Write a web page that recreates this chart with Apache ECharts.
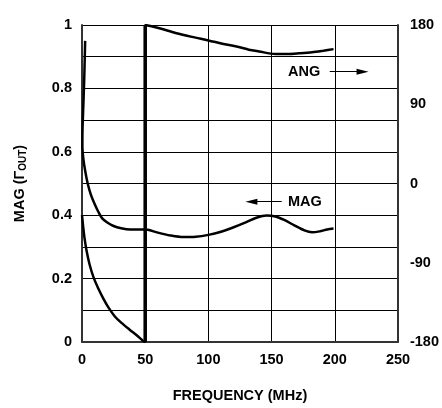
<!DOCTYPE html>
<html>
<head>
<meta charset="utf-8">
<script src="https://cdn.jsdelivr.net/npm/echarts@6/dist/echarts.min.js"></script>
<style>html,body{margin:0;padding:0;background:#fff;}#c{width:442px;height:408px;}</style>
</head>
<body>
<div id="c"></div>
<script>
// MAG (Γout) vs frequency (MHz)
var magFreq = [2.5, 2.2, 1.7, 1.0, 0.4, 0.3, 1.0, 2.5, 4.5, 7, 10, 13, 16, 20, 25, 31, 38, 48, 52, 60, 70, 80, 90, 100, 110, 120, 130, 138, 146, 153, 160, 168, 176, 182, 188, 194, 199];
var magValues = [0.95, 0.9, 0.82, 0.74, 0.67, 0.62, 0.58, 0.54, 0.5, 0.465, 0.435, 0.41, 0.39, 0.377, 0.366, 0.359, 0.355, 0.355, 0.354, 0.345, 0.336, 0.331, 0.332, 0.338, 0.348, 0.362, 0.378, 0.392, 0.399, 0.396, 0.385, 0.368, 0.352, 0.346, 0.349, 0.355, 0.358];
// Angle (degrees) vs frequency
var angFreq = [0, 1, 2, 3.7, 6, 9, 12.8, 17, 21, 26, 31, 37.7, 43, 48.5, 50, 50, 55, 62, 74, 87, 100, 112, 124, 132, 140, 153, 163, 172, 182, 191, 199];
var angValues = [-36, -50, -62, -77, -92, -106, -119, -131, -141, -151, -158, -166, -172, -179, -180, 180, 178.5, 176, 171, 166.5, 162.5, 158.5, 155, 152, 150, 147, 147, 147.8, 149, 150.8, 152.6];
var xTicks = [0, 50, 100, 150, 200, 250];
var magTicks = [0, 0.2, 0.4, 0.6, 0.8, 1];
var angTicks = [-180, -90, 0, 90, 180];

var F = 'Liberation Sans, Arial, Helvetica, sans-serif';
var FS = 14.5;
function zip(a, b) { return a.map(function (v, i) { return [v, b[i]]; }); }
// the phase wrap (two consecutive points at the same frequency), drawn heavier
var jump = [];
for (var i = 1; i < angFreq.length; i++) {
  if (angFreq[i] === angFreq[i - 1]) { jump = [[angFreq[i - 1], angValues[i - 1]], [angFreq[i], angValues[i]]]; }
}

var chart = echarts.init(document.getElementById('c'));
chart.setOption({
  animation: false,
  grid: { left: 82, right: 42, top: 25, bottom: 64 },
  xAxis: {
    type: 'value', min: xTicks[0], max: xTicks[xTicks.length - 1], interval: 50,
    name: 'FREQUENCY (MHz)', nameLocation: 'middle', nameGap: 46,
    nameTextStyle: { fontFamily: F, fontWeight: 'bold', fontSize: FS, color: '#000' },
    axisLine: { lineStyle: { color: '#333', width: 2 } },
    axisTick: { show: false },
    axisLabel: { fontFamily: F, fontWeight: 'bold', fontSize: FS, color: '#000', margin: 10 },
    splitLine: { show: true, lineStyle: { color: '#000', width: 1 } }
  },
  yAxis: [{
    type: 'value', min: 0, max: 1, interval: 0.1, position: 'left',
    name: '{a|MAG (Γ}{s|OUT}{a|)}', nameLocation: 'middle', nameGap: 54, nameRotate: 90,
    nameTextStyle: {
      rich: {
        a: { fontFamily: F, fontWeight: 'bold', fontSize: FS, color: '#000' },
        s: { fontFamily: F, fontWeight: 'bold', fontSize: 10, color: '#000', verticalAlign: 'bottom', padding: [7, 0, 0, 0] }
      }
    },
    axisLine: { show: true, lineStyle: { color: '#333', width: 2 } },
    axisTick: { show: false },
    axisLabel: {
      fontFamily: F, fontWeight: 'bold', fontSize: FS, color: '#000', margin: 10,
      formatter: function (v) {
        var k = Math.round(v * 10);
        if (k % 2 !== 0) return '';
        var t = magTicks.filter(function (m) { return Math.abs(m - v) < 1e-6; })[0];
        return t === 0 ? '0' : t === 1 ? '1' : t.toFixed(1);
      }
    },
    splitLine: { show: true, lineStyle: { color: '#000', width: 1 } }
  }, {
    type: 'value', min: angTicks[0], max: angTicks[angTicks.length - 1], interval: 90, position: 'right',
    axisLine: { show: true, lineStyle: { color: '#333', width: 2 } },
    axisTick: { show: false },
    axisLabel: { fontFamily: F, fontWeight: 'bold', fontSize: FS, color: '#000', margin: 12 },
    splitLine: { show: false }
  }],
  series: [{
    name: 'MAG', type: 'line', yAxisIndex: 0, data: zip(magFreq, magValues),
    showSymbol: false, smooth: 0.3,
    lineStyle: { color: '#000', width: 2.5 },
    markLine: {
      silent: true, symbol: ['triangle', 'none'], symbolSize: [6, 12],
      lineStyle: { color: '#000', width: 1, type: 'solid' }, label: { show: false },
      data: [[{ coord: [134, 0.4425] }, { coord: [158, 0.4425] }]]
    },
    markPoint: {
      silent: true, symbol: 'circle', symbolSize: 0,
      label: { show: true, position: 'right', distance: 0, formatter: 'MAG', fontFamily: F, fontWeight: 'bold', fontSize: FS, color: '#000' },
      data: [{ coord: [163, 0.4425] }]
    }
  }, {
    name: 'ANG', type: 'line', yAxisIndex: 1, data: zip(angFreq, angValues),
    showSymbol: false, smooth: 0.3,
    lineStyle: { color: '#000', width: 2.5 },
    markLine: {
      silent: true, symbol: ['none', 'triangle'], symbolSize: [6, 12],
      lineStyle: { color: '#000', width: 1, type: 'solid' }, label: { show: false },
      data: [[{ coord: [196, 127] }, { coord: [222, 127] }]]
    },
    markPoint: {
      silent: true, symbol: 'circle', symbolSize: 0,
      label: { show: true, position: 'right', distance: 0, formatter: 'ANG', fontFamily: F, fontWeight: 'bold', fontSize: FS, color: '#000' },
      data: [{ coord: [163, 127] }]
    }
  }, {
    name: 'ANG wrap', type: 'line', yAxisIndex: 1, data: jump,
    showSymbol: false, lineStyle: { color: '#000', width: 3.5 }
  }]
});
</script>
</body>
</html>
